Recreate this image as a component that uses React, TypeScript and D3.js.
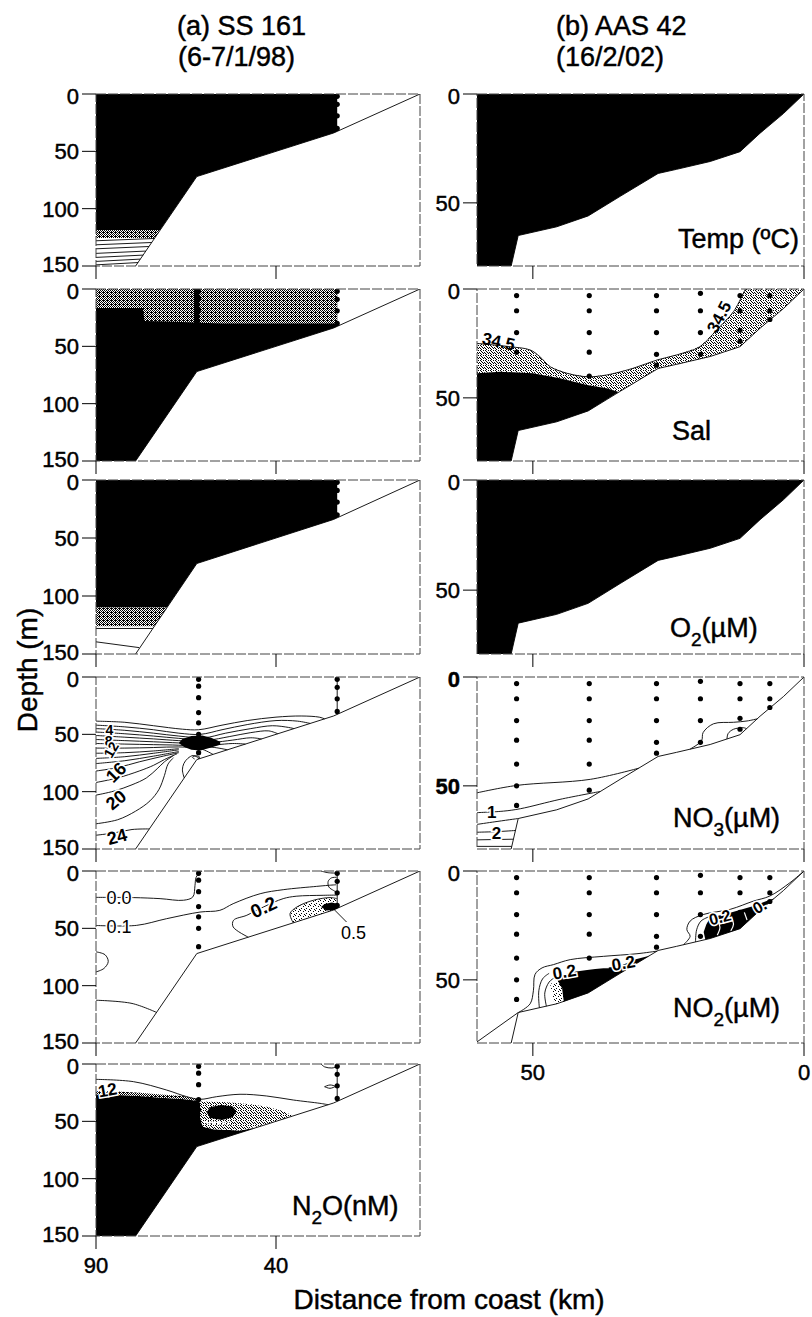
import React from 'react';
import * as d3 from 'd3';

type Pt = [number, number];

const FONT = '"Liberation Sans", Arial, Helvetica, sans-serif';

// ---------- axes: distance from coast (km) and depth (m)
const kmDomainA: [number, number] = [90, 0];
const kmDomainB: [number, number] = [60.3, 0];
const depthDomainA: [number, number] = [0, 150];
const depthDomainB: [number, number] = [0, 79];
const depthTicksA = [0, 50, 100, 150];
const depthTicksB = [0, 50];
const kmTicksA = [90, 40];
const kmTicksB = [50, 0];

// ---------- bathymetry
const bathyA: Pt[] = [[0, 0], [24, 34], [62, 72], [79, 150]];
const bathyB: Pt[] = [[0, 0], [3.8, 9], [8.1, 18], [11.8, 26.5], [17.3, 31], [23.5, 34.6], [26.9, 36.5], [33.9, 47], [39.8, 56], [45.6, 61], [52.7, 65], [54, 79]];

// ---------- stations (km) and sample depths (m)
const stationsA = [61.5, 23];
const stationDepthsA = [[2, 8, 18, 31, 40, 50, 66], [2, 9, 19, 30]];
const stationsB = [53.0, 39.6, 27.2, 19.1, 11.8, 6.3];
const stationDepthsB = [[3, 10, 20, 29, 40, 50, 59], [3, 10, 20, 29, 40, 52], [3, 10, 20, 30, 35], [2, 10, 20, 30], [3, 10, 19, 24], [3, 10, 14]];

// ---------- (a) SS 161
const lastStationA: Pt[] = [[23, 0], [23, 32.6]];
const contouredA: Pt[] = [[90, 0], [23, 0], [23, 32.6], [24, 34], [62, 72], [79, 150], [90, 150]];

const tempA_warm: Pt[] = [[90, 0], [23, 0], [23, 32.6], [24, 34], [62, 72], [72.2, 118.6], [90, 118.6]];
const tempA_band: Pt[] = [[90, 118.6], [72.2, 118.6], [73.7, 125.6], [90, 125.6]];
const tempA_iso: Pt[][] = [
  [[90, 128], [73.8, 126]],
  [[90, 131.5], [74.5, 129.5]],
  [[90, 135], [75.3, 133]],
  [[90, 139], [76.2, 137]],
  [[90, 142.5], [76.9, 140.5]],
  [[90, 146], [77.7, 144]],
  [[90, 149], [78.3, 147]],
];

const salA_fresh: Pt[] = [[90, 0], [23, 0], [23, 30], [40, 30], [55, 30], [61, 29.5], [68, 28.5], [76.5, 28], [77, 16.5], [90, 16.5]];
const salA_strip: Pt[] = [[62.8, 0], [61.3, 0], [61.3, 30], [62.8, 30]];

const o2A_high: Pt[] = [[90, 0], [23, 0], [23, 32.6], [24, 34], [62, 72], [70.3, 110], [90, 110]];
const o2A_band: Pt[] = [[90, 110], [70.3, 110], [73.8, 126], [90, 126]];
const o2A_iso: Pt[][] = [[[90, 128], [74.2, 128]], [[90, 139.5], [78, 144.5]]];

const no3A_core: Pt[] = [[66, 54], [63.5, 51.5], [60.5, 51], [58, 53], [55.5, 56.5], [55.5, 59], [58, 61.5], [61, 64], [63.5, 63.5], [65.5, 61], [67, 57.5]];
const no3A_iso: Pt[][] = [
  [[90, 38.5], [82, 39.5], [74, 42.5], [66, 45.5], [61.5, 46], [55, 42], [48, 38], [40, 35], [33, 34], [28, 35], [26.5, 36.5]],
  [[90, 42], [82, 43.5], [74, 46], [67, 49], [61, 50], [55, 46], [48, 41.5], [40, 38], [34, 38.5], [30.5, 40.5]],
  [[90, 45], [82, 46.5], [74, 49], [67, 51.5], [60, 53], [54, 49], [47, 45], [41, 42.5], [36.5, 44], [35, 45]],
  [[90, 48], [82, 49.5], [74, 51.5], [67, 53.5], [59, 55], [53, 52], [47, 48.5], [42, 47], [39.5, 49.5]],
  [[90, 51], [82, 52.5], [74, 54], [67, 55.5], [58, 57], [52, 55], [47, 53], [44, 54]],
  [[90, 54.5], [82, 55.5], [74, 56.5], [67, 57.5], [57, 59], [52, 58], [48.5, 58.5]],
  [[90, 58], [82, 58.5], [74, 59], [67, 59.5], [57, 61.5], [53.5, 63.5]],
  [[90, 62], [82, 62], [74, 61.5], [67, 61], [61, 62.5], [57.5, 67.5]],
  [[90, 66.5], [82, 66], [74, 64.5], [67, 62.5]],
  [[90, 71], [82, 69.5], [74, 66.5], [67, 63.5]],
  [[90, 75.5], [82, 73], [74, 69], [67, 65]],
  [[90, 82], [84, 79], [78, 74], [72, 69.5], [67, 66]],
  [[90, 92], [84, 88], [78, 82], [74, 77], [71, 72], [67.5, 67]],
  [[90, 103], [85, 99.5], [80, 94], [76, 88], [73, 80], [71, 74], [68.5, 68.5]],
  [[90, 128], [84, 124.5], [79, 117], [75, 108], [72.5, 98], [71, 86], [70, 76], [68.5, 70.5]],
  [[90, 138], [85, 136], [80, 133], [75.2, 132.5]],
  [[65.5, 88], [66, 81], [65.6, 75.5], [64.5, 71], [63, 68.5], [61.2, 71.2]],
  [[62.6, 71.5], [63.2, 70], [62.3, 68.7], [61.2, 69.8], [61.7, 71.6]],
];
const no3A_labels = [
  { text: '4', at: [86.3, 46.5] as Pt, rot: 0, size: 14 },
  { text: '8', at: [86.5, 55.5] as Pt, rot: 0, size: 14 },
  { text: '12', at: [85.8, 63.5] as Pt, rot: -60, size: 14 },
  { text: '16', at: [84.5, 83] as Pt, rot: -45, size: 18 },
  { text: '20', at: [84.5, 107] as Pt, rot: -40, size: 18 },
  { text: '24', at: [84.2, 139] as Pt, rot: -15, size: 18 },
];

const no2A_patch: Pt[] = [[35.2, 45.2], [36.1, 37.2], [34.2, 31.4], [29.6, 25.5], [25, 23.2], [23.2, 24], [23, 32.6], [24, 34]];
const no2A_core: Pt[] = [[27.5, 31.5], [26.5, 28.8], [24.5, 27.5], [23, 28.5], [23, 32.6], [24, 34], [26, 34.5]];
const no2A_iso: Pt[][] = [
  [[90, 23], [79.6, 23.2], [72.2, 24.1], [65.7, 25.5], [63.1, 22.6], [62.5, 12.5], [62.2, 5.6], [61.1, 1.3], [60.5, 0]],
  [[90, 47.5], [78.7, 47.4], [70.4, 41.6], [61.1, 35.8], [55.6, 34.3], [51.9, 28.5], [44.4, 19.8], [38, 16.3], [28.7, 13.4], [25.5, 12.5], [23.3, 12]],
  [[47.7, 57.7], [51.9, 48.8], [51.8, 43], [48.1, 38.6], [43.5, 31.4], [38, 24.1], [34.4, 22], [26.9, 21.2], [23.2, 21]],
  [[35.2, 45.2], [36.1, 37.2], [34.2, 31.4], [29.6, 25.5], [25, 23.2], [23.2, 24]],
  [[90, 70.5], [87.5, 73], [86.6, 79], [87.8, 85], [90, 88]],
  [[90, 112.7], [80, 115.5], [73.2, 123.3]],
  [[23.2, 5.5], [24.6, 6], [25.5, 9], [25.3, 14], [24, 17], [23.2, 18.5]],
  [[27.5, 0], [25.5, 1.5], [23.2, 1.8]],
  [[20.4, 44.5], [24.1, 32.8]],
];
const no2A_labels = [
  { text: '0.0', at: [83.6, 23.2] as Pt, rot: 0, size: 18, bold: false },
  { text: '0.1', at: [83.6, 48.3] as Pt, rot: 0, size: 18, bold: false },
  { text: '0.2', at: [43.5, 31.4] as Pt, rot: -25, size: 19 },
  { text: '0.5', at: [18.5, 53.5] as Pt, rot: 0, size: 18, bold: false },
];

const n2oA_high: Pt[] = [[90, 26.5], [84, 27], [78, 28], [72, 29.5], [66, 30.5], [62, 32], [61, 34], [61, 48.8], [60.2, 54.7], [57.4, 57], [50, 58.1], [47.2, 56.5], [46, 56], [62, 72], [79, 150], [90, 150]];
const n2oA_rim: Pt[] = [[90, 23.5], [84, 24], [78, 25], [72, 26.5], [66, 28], [62, 30], [62, 32], [66, 30.5], [72, 29.5], [78, 28], [84, 27], [90, 26.5]];
const n2oA_tongue: Pt[] = [[61.1, 32.8], [55, 33.2], [51.9, 33.7], [47, 35], [42.6, 37.2], [38.5, 40.5], [35.2, 45.2], [38, 48], [42.6, 52.6], [47.2, 56], [50, 58.1], [57.4, 57], [60.2, 54.7], [61.1, 48.8]];
const n2oA_core: Pt[] = [[59.3, 42], [58.2, 37.5], [55.2, 35.8], [52, 37], [51, 41.5], [52, 46.5], [55, 48.8], [58.3, 47]];
const n2oA_streak: Pt[] = [[60, 49.5], [56, 50.5], [52, 51.5], [52.5, 53], [56.5, 52.5], [60, 51.5]];
const n2oA_iso: Pt[][] = [
  [[90, 13.4], [79.6, 15.4], [70.4, 22.7], [64.8, 28.5], [61.1, 30.8], [56.5, 28.5], [50, 26.4], [42.6, 27.9], [35.2, 31.4], [27.8, 34.3], [25.5, 35.5]],
  [[27.5, 0], [26.5, 2.5], [24.5, 3.5], [23.2, 2.5]],
  [[26.5, 19.8], [25, 18.3], [23.6, 19.5], [25, 21.2], [26.5, 19.8]],
];
const n2oA_labels = [{ text: '12', at: [86.8, 22.5] as Pt, rot: -10, size: 17 }];

// ---------- (b) AAS 42
const waterB: Pt[] = [[60.3, 0], ...bathyB, [60.3, 79]];

const salB_iso: Pt[] = [[60.3, 25], [54.2, 26.5], [50.5, 28], [48.7, 31.1], [46.8, 35.7], [43.7, 38.7], [40, 40.3], [36.4, 39.5], [31.5, 36.4], [27.1, 32.6], [23.5, 30.3], [19.2, 26.5], [16.1, 18.8], [13, 10.4], [11.2, 2], [10.8, 0]];
const salB_saline: Pt[] = [[60.3, 38.7], [56, 38], [50, 38.7], [45, 41], [40, 44.1], [36.4, 45.6], [34.2, 47.3], [39.8, 56], [45.6, 61], [52.7, 65], [54, 79], [60.3, 79]];
const salB_mixed: Pt[] = [...salB_iso, [0, 0], [3.8, 9], [8.1, 18], [11.8, 26.5], [17.3, 31], [23.5, 34.6], [26.9, 36.5], [33.9, 47], [34.2, 47.3], [36.4, 45.6], [40, 44.1], [45, 41], [50, 38.7], [56, 38], [60.3, 38.7]];
const salB_labels = [
  { text: '34.5', at: [56.3, 24] as Pt, rot: 12, size: 17, halo: false },
  { text: '34.5', at: [15.7, 12.8] as Pt, rot: -62, size: 17, halo: false },
];

const no3B_iso: Pt[][] = [
  [[60.3, 53.2], [53, 49.8], [39.4, 47], [30.5, 41.9]],
  [[60.3, 62.3], [55.4, 61.6], [52.3, 60.5], [45, 56.2], [37.6, 52.6]],
  [[60.3, 67.7], [57, 66.5], [52.7, 65]],
  [[60.3, 71.3], [56.5, 71], [53.2, 70.5]],
  [[60.3, 74.8], [53.6, 74.5]],
  [[60.3, 77.8], [53.9, 77.8]],
  [[21, 33.1], [18.9, 29.3], [18.6, 25.5], [16.7, 21.5], [13, 20.8], [10.5, 20.2], [8.6, 19.2]],
  [[14.2, 28.5], [14, 26], [13, 24], [11.2, 23.3], [10.6, 23.7]],
];
const no3B_labels = [
  { text: '1', at: [57.6, 62] as Pt, rot: 0, size: 17 },
  { text: '2', at: [56.7, 71.6] as Pt, rot: 0, size: 17 },
];

const no2B_lowCore: Pt[] = [[45.5, 49], [43, 46.5], [40, 45.5], [37, 44.6], [34, 43.8], [31, 40.5], [28.5, 38.9], [33.9, 47], [39.8, 56], [44.5, 60.2], [44.8, 55], [45.5, 51.5]];
const no2B_lowStreak: Pt[] = [[46.8, 52], [45.5, 50], [44.6, 54], [44.3, 60], [46, 61.2]];
const no2B_upCore: Pt[] = [[18, 24.5], [17.3, 21.5], [13.6, 19.2], [9.3, 16.1], [6.3, 13.2], [5.5, 12.6], [8.1, 18], [11.8, 26.5], [17.3, 31], [18.2, 31.5], [18.5, 28]];
const no2B_iso: Pt[][] = [
  [[60.3, 78.5], [52.7, 65]],
  [[52.6, 64.9], [50.5, 61], [49.9, 55], [49.6, 47.5], [48.3, 44.5], [46.2, 43], [43.1, 40.7], [37, 39.2], [30.8, 38], [27.1, 36.8]],
  [[47.5, 62.1], [47.8, 56], [47, 51], [46, 49]],
  [[48.8, 62.8], [48.9, 55], [48.2, 49.5], [47, 47]],
  [[0.1, 0.2], [2.6, 5.4], [6.3, 11.5], [9.3, 13.8], [13.6, 17.6], [18.6, 20], [21, 23], [21.6, 26.9], [21, 30], [22.2, 33.8]],
  [[20, 32.6], [19.8, 27], [19, 23], [17.5, 21]],
];
const no2B_whiteIso: Pt[][] = [
  [[41, 44.4], [36, 44.4]],
  [[16, 22.5], [15.5, 26], [16, 29.5]],
  [[13.5, 21], [13, 24.5], [13.5, 27.5]],
  [[11, 19], [10.5, 22.5]],
];
const no2B_labels = [
  { text: '0.2', at: [44.2, 46.2] as Pt, rot: -10, size: 17 },
  { text: '0.2', at: [33.3, 42.2] as Pt, rot: -10, size: 17 },
  { text: '0.2', at: [15.5, 21.2] as Pt, rot: -15, size: 16 },
  { text: '0.', at: [8.2, 16.2] as Pt, rot: -30, size: 16 },
];

// ---------- panel names
const nameN2O = ['N', '2', 'O(nM)'];
const nameTemp = ['Temp (ºC)'];
const nameSal = ['Sal'];
const nameO2 = ['O', '2', '(µM)'];
const nameNO3 = ['NO', '3', '(µM)'];
const nameNO2 = ['NO', '2', '(µM)'];

// ---------- layout
const rowTop = [94, 289, 480, 677, 871, 1064];
const rowH = [172, 172, 174, 172, 172, 172];
const colX: [number, number][] = [[96, 420], [477, 804]];
const heavy = { stroke: '#000', strokeWidth: 0.45 };

type Label = { text: string; at: Pt; rot: number; size: number; bold?: boolean; halo?: boolean };
type Spec = {
  fills?: { pts: Pt[]; fill: string }[];
  lines?: { pts: Pt[]; stroke?: string; width?: number }[];
  labels?: Label[];
  name?: string[];
  nameAt?: [number, number];
  boldTicks?: boolean;
  noDots?: boolean;
};

const iso = (arr: Pt[][], stroke = '#000', width = 0.9) => arr.map(pts => ({ pts, stroke, width }));

const panelsA: Spec[] = [
  {
    fills: [{ pts: tempA_warm, fill: '#000' }, { pts: tempA_band, fill: 'url(#dense)' }],
    lines: iso(tempA_iso),
  },
  {
    fills: [{ pts: contouredA, fill: '#000' }, { pts: salA_fresh, fill: 'url(#dense)' }, { pts: salA_strip, fill: '#000' }],
  },
  {
    fills: [{ pts: o2A_high, fill: '#000' }, { pts: o2A_band, fill: 'url(#dense)' }],
    lines: iso(o2A_iso),
  },
  {
    fills: [{ pts: no3A_core, fill: '#000' }],
    lines: [...iso(no3A_iso), ...iso([lastStationA])],
    labels: no3A_labels,
  },
  {
    fills: [{ pts: no2A_patch, fill: 'url(#light)' }, { pts: no2A_core, fill: '#000' }],
    lines: [...iso(no2A_iso), ...iso([lastStationA])],
    labels: no2A_labels,
  },
  {
    fills: [
      { pts: n2oA_high, fill: '#000' },
      { pts: n2oA_rim, fill: 'url(#dense)' },
      { pts: n2oA_tongue, fill: 'url(#medium)' },
      { pts: n2oA_core, fill: '#000' },
      { pts: n2oA_streak, fill: 'url(#light)' },
    ],
    lines: [...iso(n2oA_iso), ...iso([lastStationA])],
    labels: n2oA_labels,
    name: nameN2O,
    nameAt: [292, 1215],
  },
];

const panelsB: Spec[] = [
  { fills: [{ pts: waterB, fill: '#000' }], name: nameTemp, nameAt: [678, 248], noDots: true },
  {
    fills: [{ pts: salB_mixed, fill: 'url(#medium)' }, { pts: salB_saline, fill: '#000' }],
    lines: iso([salB_iso]),
    labels: salB_labels,
    name: nameSal,
    nameAt: [672, 440],
  },
  { fills: [{ pts: waterB, fill: '#000' }], name: nameO2, nameAt: [670, 637], noDots: true },
  { lines: iso(no3B_iso), labels: no3B_labels, name: nameNO3, nameAt: [673, 827], boldTicks: true },
  {
    fills: [{ pts: no2B_lowCore, fill: '#000' }, { pts: no2B_lowStreak, fill: 'url(#light)' }, { pts: no2B_upCore, fill: '#000' }],
    lines: [...iso(no2B_iso), ...iso(no2B_whiteIso, '#fff', 1.2)],
    labels: no2B_labels,
    name: nameNO2,
    nameAt: [673, 1017],
  },
];

function Panel({ col, row, spec, last }: { col: number; row: number; spec: Spec; last: boolean }) {
  const [x0, x1] = colX[col];
  const y0 = rowTop[row];
  const y1 = y0 + rowH[row];
  const depthDomain = col ? depthDomainB : depthDomainA;
  const x = d3.scaleLinear().domain(col ? kmDomainB : kmDomainA).range([x0, x1]);
  const y = d3.scaleLinear().domain(depthDomain).range([y0, y1]);
  const poly = d3.line<Pt>().x(d => x(d[0])).y(d => y(d[1])).curve(d3.curveLinearClosed);
  const smooth = d3.line<Pt>().x(d => x(d[0])).y(d => y(d[1])).curve(d3.curveCatmullRom.alpha(0.5));
  const straight = d3.line<Pt>().x(d => x(d[0])).y(d => y(d[1]));
  const bathy = col ? bathyB : bathyA;
  const stations = col ? stationsB : stationsA;
  const depths = col ? stationDepthsB : stationDepthsA;
  const depthTicks = col ? depthTicksB : depthTicksA;
  const kmTicks = col ? kmTicksB : kmTicksA;
  const clip = `clip-${col}-${row}`;
  const tickDy = (t: number) => (t === 0 ? '0.46em' : t === depthDomain[1] ? '0.26em' : '0.36em');

  return (
    <g>
      <clipPath id={clip}>
        <rect x={x0} y={y0} width={x1 - x0} height={y1 - y0} />
      </clipPath>
      <g clipPath={`url(#${clip})`}>
        {(spec.fills || []).map((f, i) => (
          <path key={'f' + i} d={poly(f.pts) || ''} fill={f.fill} stroke="none" />
        ))}
        {(spec.lines || []).map((l, i) => (
          <path key={'l' + i} d={smooth(l.pts) || ''} fill="none" stroke={l.stroke || '#000'} strokeWidth={l.width || 0.9} />
        ))}
        <path d={straight(bathy) || ''} fill="none" stroke="#000" strokeWidth={0.9} />
        {!spec.noDots &&
          stations.map((km, i) =>
            depths[i].map(d => <circle key={`s${i}-${d}`} cx={x(km)} cy={y(d)} r={2.6} fill="#000" />)
          )}
        {(spec.labels || []).map((lb, i) => (
          <text
            key={'t' + i}
            transform={`translate(${x(lb.at[0])},${y(lb.at[1])}) rotate(${lb.rot})`}
            textAnchor="middle"
            dy="0.36em"
            fontSize={lb.size}
            fontWeight={lb.bold === false ? 'normal' : 'bold'}
            fill="#000"
            stroke={lb.halo === false ? 'none' : '#fff'}
            strokeWidth={3}
            style={{ paintOrder: 'stroke' }}
          >
            {lb.text}
          </text>
        ))}
      </g>
      <rect x={x0} y={y0} width={x1 - x0} height={y1 - y0} fill="none" stroke="#444" strokeWidth={1} strokeDasharray="10 2" />
      {depthTicks.map(t => (
        <g key={'yt' + t}>
          <line x1={x0 - 14} x2={x0} y1={y(t)} y2={y(t)} stroke="#000" strokeWidth={1} />
          <text
            x={x0 - 17}
            y={y(t)}
            dy={tickDy(t)}
            textAnchor="end"
            fontSize={22}
            fontWeight={spec.boldTicks ? 'bold' : 'normal'}
            {...heavy}
          >
            {t}
          </text>
        </g>
      ))}
      {kmTicks.map(t => (
        <g key={'xt' + t}>
          <line x1={x(t)} x2={x(t)} y1={y1} y2={y1 + 13} stroke="#000" strokeWidth={1} />
          {last && (
            <text x={x(t)} y={y1 + 37} textAnchor="middle" fontSize={22} {...heavy}>
              {t}
            </text>
          )}
        </g>
      ))}
      {spec.name && spec.nameAt && (
        <text x={spec.nameAt[0]} y={spec.nameAt[1]} fontSize={27} {...heavy}>
          <tspan>{spec.name[0]}</tspan>
          {spec.name[1] && (
            <tspan dy={9} fontSize={19}>
              {spec.name[1]}
            </tspan>
          )}
          {spec.name[2] && (
            <tspan dy={-9} fontSize={27}>
              {spec.name[2]}
            </tspan>
          )}
        </text>
      )}
    </g>
  );
}

function Dots({ size, cells }: { size: number; cells: Pt[] }) {
  return (
    <>
      <rect width={size} height={size} fill="#fff" />
      {cells.map((p, i) => (
        <rect key={i} x={p[0]} y={p[1]} width={1} height={1} fill="#000" />
      ))}
    </>
  );
}

// texture cells for the stippled shading
const denseCells: Pt[] = [[0, 0], [2, 0], [1, 1], [3, 1], [0, 2], [2, 2], [1, 3], [3, 3], [3, 0]];
const mediumCells: Pt[] = [[0, 0], [3, 0], [1, 1], [4, 2], [2, 2], [0, 3], [3, 3], [1, 4]];
const lightCells: Pt[] = [[0, 0], [3, 1], [1, 3], [4, 4]];

export default function App() {
  return (
    <svg width={812} height={1317} style={{ position: 'absolute', left: 0, top: 0, background: '#fff' }} fontFamily={FONT}>
      <defs>
        <pattern id="dense" width={4} height={4} patternUnits="userSpaceOnUse">
          <Dots size={4} cells={denseCells} />
        </pattern>
        <pattern id="medium" width={5} height={5} patternUnits="userSpaceOnUse">
          <Dots size={5} cells={mediumCells} />
        </pattern>
        <pattern id="light" width={5} height={5} patternUnits="userSpaceOnUse">
          <Dots size={5} cells={lightCells} />
        </pattern>
      </defs>
      <rect width={812} height={1317} fill="#fff" />

      <text x={177} y={35} fontSize={27} {...heavy}>(a) SS 161</text>
      <text x={178} y={66} fontSize={27} {...heavy}>(6-7/1/98)</text>
      <text x={556} y={35} fontSize={27} {...heavy}>(b) AAS 42</text>
      <text x={556} y={66} fontSize={27} {...heavy}>(16/2/02)</text>

      {panelsA.map((p, i) => (
        <Panel key={'a' + i} col={0} row={i} spec={p} last={i === panelsA.length - 1} />
      ))}
      {panelsB.map((p, i) => (
        <Panel key={'b' + i} col={1} row={i} spec={p} last={i === panelsB.length - 1} />
      ))}

      <text transform="translate(37,670) rotate(-90)" textAnchor="middle" fontSize={28} {...heavy}>
        Depth (m)
      </text>
      <text x={449} y={1309} textAnchor="middle" fontSize={28} {...heavy}>
        Distance from coast (km)
      </text>
    </svg>
  );
}
